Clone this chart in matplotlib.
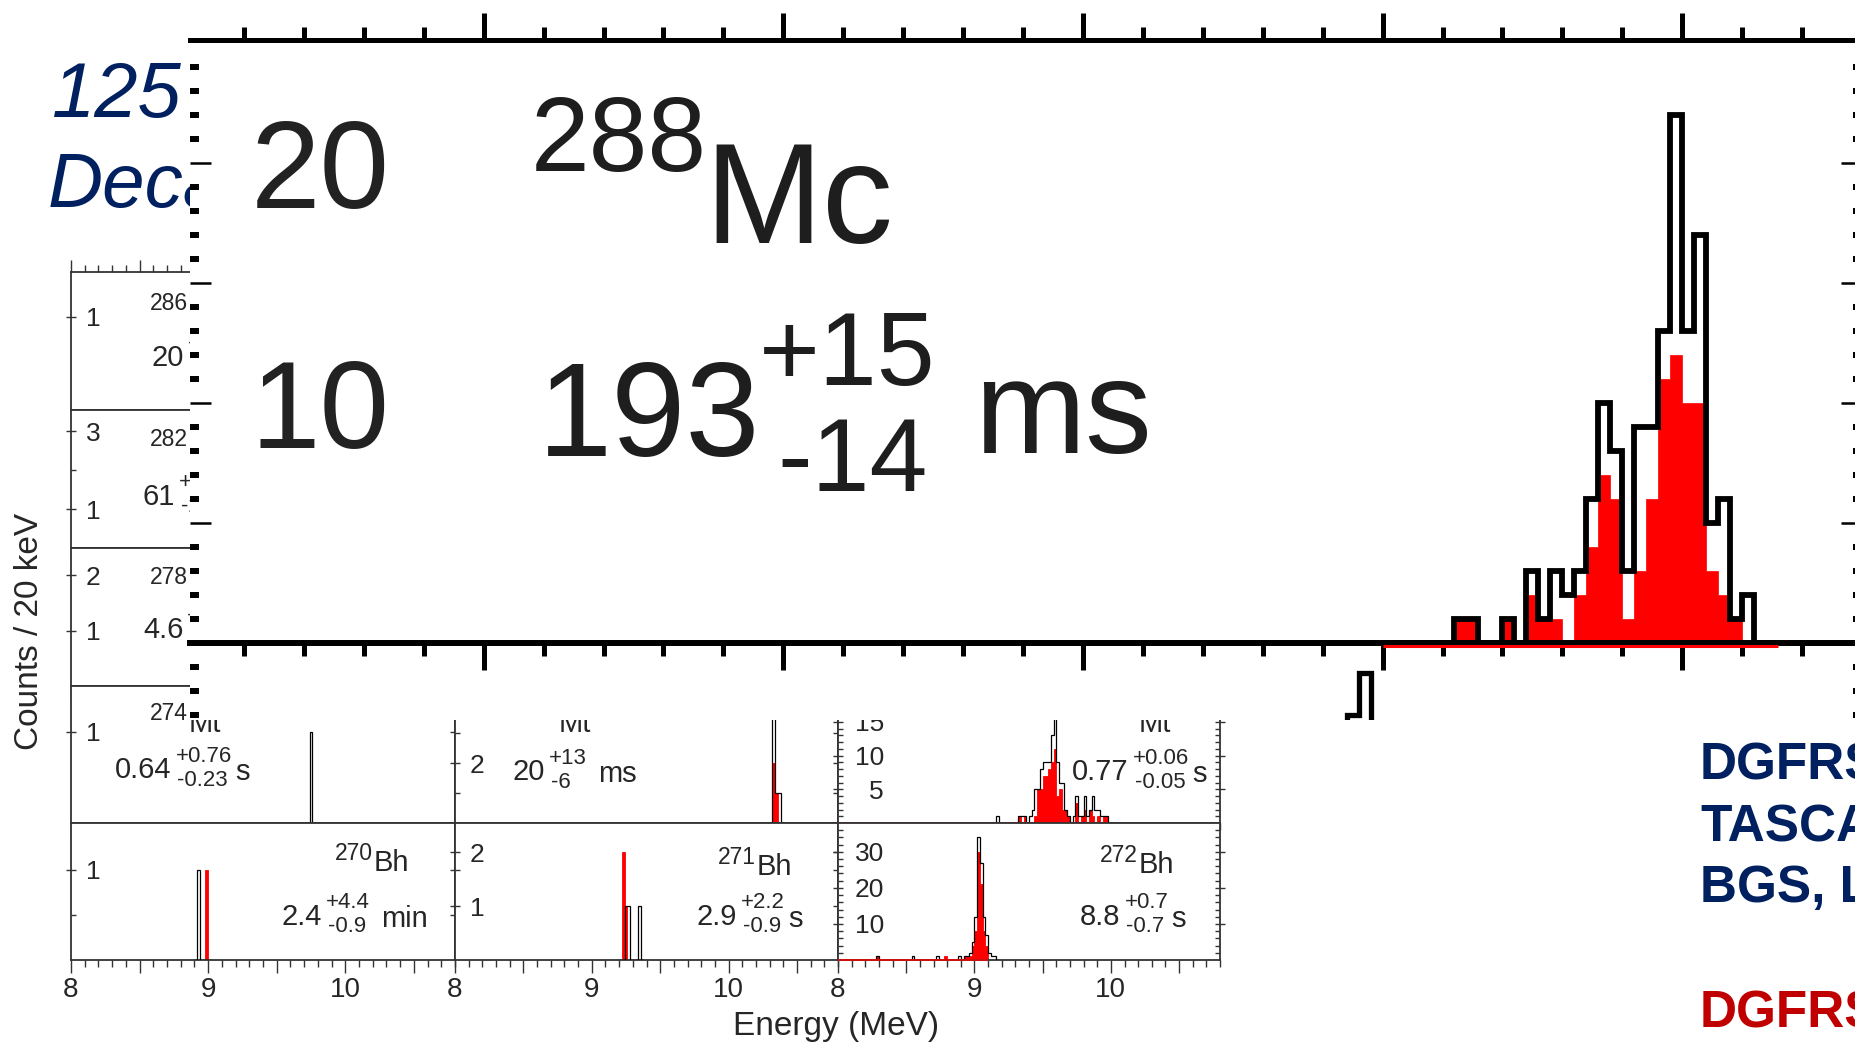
import numpy as np
import matplotlib
matplotlib.use('Agg')
import matplotlib.pyplot as plt
from matplotlib.patches import Rectangle
from matplotlib.ticker import MultipleLocator, FuncFormatter, FixedLocator

plt.rcParams['font.family'] = ['Liberation Sans', 'DejaVu Sans']

BIN = 0.02  # 20 keV bins

# 288Mc, enlarged panel (bins start at 10.00 MeV)
mc288_start = 10.00
mc288_black = [0, 0, 0, 0, 0, 0, 1, 1, 0, 0, 1, 0, 3, 1, 3, 2, 3, 6, 10, 8, 3,
               9, 9, 13, 22, 13, 17, 5, 6, 1, 2, 0, 0]
mc288_red = [0, 0, 0, 0, 0, 0, 1, 1, 0, 0, 1, 0, 2, 1, 1, 0, 2, 4, 7, 6, 1,
             3, 6, 11, 12, 10, 10, 3, 2, 1, 0, 0, 0]
# top of the histogram of the panel underneath, seen at the lower edge
lower_start = 9.94
lower_counts = [0.4, 2.15]
lower_base = -3.4

# small panels: bin start (MeV), all events (black) and red events
mt274_bins, mt274_black, mt274_red = [9.74], [1], [0]
bh270_bins, bh270_black, bh270_red = [8.92, 8.98], [1, 0], [0, 1]
mt275_bins, mt275_black, mt275_red = [10.32, 10.34, 10.36], [4, 1, 1], [2, 1, 0]
bh271_bins = [9.22, 9.24, 9.26, 9.34]
bh271_black = [0, 1, 1, 1]
bh271_red = [2, 1, 0, 0]
mt276_bins = [9.16, 9.32, 9.34, 9.36, 9.40, 9.42, 9.44, 9.46, 9.48, 9.50, 9.52,
              9.54, 9.56, 9.58, 9.60, 9.62, 9.64, 9.66, 9.68, 9.72, 9.74, 9.76,
              9.78, 9.80, 9.82, 9.84, 9.86, 9.88, 9.90, 9.92, 9.94, 9.96]
mt276_black = [1, 1, 1, 1, 1, 2, 5, 5, 8, 9, 9, 9, 13, 20, 9, 6, 6, 2, 1, 1, 4, 1,
               1, 4, 1, 2, 4, 2, 2, 1, 1, 1]
mt276_red = [0, 1, 0, 1, 0, 0, 1, 5, 5, 7, 7, 8, 9, 11, 4, 5, 2, 2, 1, 0, 3, 0,
             1, 2, 0, 2, 1, 0, 1, 0, 1, 1]
bh272_bins = [8.28, 8.54, 8.72, 8.78, 8.88, 8.92, 8.94, 8.96, 8.98, 9.00, 9.02,
              9.04, 9.06, 9.08, 9.10, 9.12, 9.14]
bh272_black = [1, 1, 1, 0, 1, 1, 1, 2, 5, 12, 34, 27, 12, 7, 2, 1, 1]
bh272_red = [1, 0, 0, 1, 0, 1, 1, 1, 4, 8, 30, 21, 8, 4, 0, 0, 0]

W, H = 1856, 1044
NAVY = '#002060'
TXT = '#262626'

fig = plt.figure(figsize=(W / 100, H / 100), dpi=100, facecolor='white')
renderer = fig.canvas.get_renderer()


def px_axes(x0, y0, x1, y1, **kw):
    return fig.add_axes([x0 / W, 1 - y1 / H, (x1 - x0) / W, (y1 - y0) / H], **kw)


def ptext(x, y, s, **kw):
    return fig.text(x / W, 1 - y / H, s, **kw)


def width_px(t):
    return t.get_window_extent(renderer).width


def on_grid(bins, counts):
    lo = round(min(bins) - BIN, 2)
    n = int(round((max(bins) - lo) / BIN)) + 2
    edges = lo + BIN * np.arange(n + 1)
    vals = np.zeros(n)
    for b, c in zip(bins, counts):
        vals[int(round((b - lo) / BIN))] = c
    return edges, vals


# ---- background slide text ----
ptext(52, 117, '125', fontsize=56, style='italic', color=NAVY, zorder=1.5)
ptext(48, 207, 'Decay', fontsize=55, style='italic', color=NAVY, zorder=1.5)

for y, s, c in [(779, 'DGFRS', NAVY), (841, 'TASCA', NAVY),
                (902, 'BGS, LBNL', NAVY), (1027, 'DGFRS', '#c00000')]:
    ptext(1700, y, s, fontsize=37, fontweight='bold', color=c, zorder=4)

# ---- small panels ----
COL_X = [71, 455, 838, 1220]
ROW_Y = [272, 410, 548, 686, 823, 960]

panels = [
    dict(r=0, c=0, top=1.48, major=[1], labels=['1'], minor=[]),
    dict(r=1, c=0, top=3.54, major=[1, 3], labels=['1', '3'], minor=[2]),
    dict(r=2, c=0, top=2.49, major=[1, 2], labels=['1', '2'], minor=[]),
    dict(r=3, c=0, top=1.5, major=[1], labels=['1'], minor=[],
         data=(mt274_bins, mt274_black, mt274_red)),
    dict(r=4, c=0, top=1.52, major=[1], labels=['1'], minor=[0.5],
         data=(bh270_bins, bh270_black, bh270_red)),
    dict(r=3, c=1, top=4.57, major=[2, 4], labels=['2', '4'], minor=[1, 3],
         data=(mt275_bins, mt275_black, mt275_red)),
    dict(r=4, c=1, top=2.54, major=[1, 2], labels=['1', '2'], minor=[1.67],
         data=(bh271_bins, bh271_black, bh271_red)),
    dict(r=3, c=2, top=20.3, major=[5, 10, 15], labels=['5', '10', '15'],
         minor=list(range(1, 21)), data=(mt276_bins, mt276_black, mt276_red),
         base=True),
    dict(r=4, c=2, top=38, major=[10, 20, 30], labels=['10', '20', '30'],
         minor=list(range(2, 38, 2)), data=(bh272_bins, bh272_black, bh272_red),
         base=True),
]

for p in panels:
    ax = px_axes(COL_X[p['c']], ROW_Y[p['r']], COL_X[p['c'] + 1], ROW_Y[p['r'] + 1])
    ax.set_zorder(1)
    ax.set_xlim(8, 10.8)
    ax.set_ylim(0, p['top'])
    for s in ax.spines.values():
        s.set_color('#333333')
        s.set_linewidth(1.3)
    if 'data' in p:
        bins, black, red = p['data']
        edges, vb = on_grid(bins, black)
        _, vr = on_grid(bins, red)
        ax.stairs(vr, edges, fill=True, facecolor='red', edgecolor='red',
                  lw=0.6, zorder=2)
        ax.stairs(vb, edges, baseline=0, fill=False, color='black', lw=0.9,
                  zorder=3)
        if p.get('base'):
            last = max(b for b, v in zip(bins, red) if v > 0) + BIN
            ax.hlines(0, 8, last, color='#d01010', lw=1.4, zorder=4, clip_on=False)
    ax.set_xticks([8, 8.5, 9, 9.5, 10, 10.5])
    ax.xaxis.set_minor_locator(MultipleLocator(0.1))
    if p['r'] == 4:
        ax.set_xticklabels(['8', '', '9', '', '10', ''])
    else:
        ax.set_xticklabels([])
    ax.tick_params(axis='x', which='major', direction='out', length=9, width=1.0,
                   color='#333333', labelsize=20, labelcolor=TXT, pad=3,
                   top=(p['r'] == 0))
    ax.tick_params(axis='x', which='minor', direction='out', length=5, width=1.0,
                   color='#333333', top=(p['r'] == 0))
    ax.set_yticks(p['major'])
    ax.set_yticklabels(p['labels'])
    ax.yaxis.set_minor_locator(FixedLocator(p['minor']))
    pad = -36.6 if p['c'] == 2 else -25
    ax.tick_params(axis='y', which='major', direction='inout', length=7, width=1.0,
                   color='#333333', left=True, right=True, labelsize=19,
                   labelcolor=TXT, pad=pad)
    ax.tick_params(axis='y', which='minor', direction='in', length=3.5, width=1.0,
                   color='#333333', left=True, right=True)

# nuclide labels and half-lives in the small panels
nuclides = [
    (150, 303, '286', 'Mc'), (150, 440, '282', 'Nh'), (150, 577, '278', 'Rg'),
    (150, 714, '274', 'Mt'), (520, 714, '275', 'Mt'), (1100, 714, '276', 'Mt'),
    (335, 853, '270', 'Bh'), (718, 857, '271', 'Bh'), (1100, 855, '272', 'Bh'),
]
for x, y, mass, sym in nuclides:
    t = ptext(x, y, mass, fontsize=16.5, color=TXT, va='center', zorder=1.2)
    ptext(x + width_px(t) + 1, y + 18, sym, fontsize=21, color=TXT,
          va='baseline', zorder=1.2)

halflives = [
    (152, 358, '20', '+98', '-9', 'ms'),
    (143, 497, '61', '+73', '-22', 'ms'),
    (143, 630, '4.6', '+5.5', '-1.6', 'ms'),
    (115, 770, '0.64', '+0.76', '-0.23', 's'),
    (513, 772, '20', '+13', '-6', 'ms'),
    (1072, 772, '0.77', '+0.06', '-0.05', 's'),
    (282, 917, '2.4', '+4.4', '-0.9', 'min'),
    (697, 917, '2.9', '+2.2', '-0.9', 's'),
    (1080, 917, '8.8', '+0.7', '-0.7', 's'),
]
for x, y, val, up, dn, unit in halflives:
    t = ptext(x, y, val, fontsize=21, color=TXT, va='center', zorder=1.2)
    xs = x + width_px(t) + 4
    tu = ptext(xs, y - 14, up, fontsize=16, color=TXT, va='center', zorder=1.2)
    td = ptext(xs + 2, y + 10, dn, fontsize=16, color=TXT, va='center', zorder=1.2)
    w2 = max(width_px(tu), width_px(td) + 2)
    ptext(xs + w2 + 3 + (8 if unit in ('ms', 'min') else 0), y + 2, unit,
          fontsize=21, color=TXT, va='center', zorder=1.2)

ptext(836, 1027, 'Energy (MeV)', fontsize=24, color=TXT, ha='center', va='center')
ptext(30, 631, 'Counts / 20 keV', fontsize=24, color=TXT, ha='center',
      va='center', rotation=90)

# ---- enlarged 288Mc panel laid over the slide ----
fig.add_artist(Rectangle((190 / W, 1 - 720 / H), (W - 190) / W, 720 / H,
                         transform=fig.transFigure, facecolor='white',
                         edgecolor='none', zorder=2))

ov = px_axes(190, 40, 1862, 720)
ov.set_zorder(3)
ov.set_facecolor('white')
ov.set_xlim(8.01, 10.80)
ov.set_ylim(-3.2, 25.12)

edges = mc288_start + BIN * np.arange(len(mc288_black) + 1)
ov.stairs(mc288_red, edges, fill=True, facecolor='#ff0000', edgecolor='#ff0000',
          lw=0.5, zorder=2)
ov.hlines(-0.12, edges[0], edges[-1], color='#ff0000', lw=2.2, zorder=4)
ov.stairs(mc288_black, edges, baseline=0, fill=False, color='black', lw=4.2,
          zorder=3)
low_edges = lower_start + BIN * np.arange(len(lower_counts) + 1)
ov.stairs(lower_base + np.array(lower_counts), low_edges, baseline=lower_base,
          fill=False, color='black', lw=3.8, zorder=3)

ov.spines['left'].set_visible(False)
ov.spines['right'].set_visible(False)
ov.spines['top'].set_linewidth(3.6)
ov.spines['bottom'].set_position(('data', 0))
ov.spines['bottom'].set_linewidth(4.3)
ov.spines['bottom'].set_zorder(3.5)

ov.xaxis.set_major_locator(MultipleLocator(0.5))
ov.xaxis.set_minor_locator(MultipleLocator(0.1))
ov.tick_params(axis='x', which='major', direction='out', length=19.5, width=3.6,
               top=True, bottom=True, labelbottom=False)
ov.tick_params(axis='x', which='minor', direction='out', length=9.5, width=3.6,
               top=True, bottom=True)

ov.yaxis.set_major_locator(FixedLocator([-0, 5, 10, 15, 20]))
ov.yaxis.set_minor_locator(FixedLocator([v for v in range(-3, 25) if v % 5]))
ov.yaxis.set_major_formatter(FuncFormatter(
    lambda v, pos: f'{v:.0f}' if round(v) in (10, 20) else ''))
ov.tick_params(axis='y', which='major', direction='in', length=15, width=1.8,
               left=True, right=True, labelsize=90, labelcolor='#222222',
               pad=-144)
ov.tick_params(axis='y', which='minor', direction='in', length=6.5, width=4.3,
               left=True, right=True)

BIG = '#1e1e1e'
ptext(531, 171, '288', fontsize=76, color=BIG, va='baseline', zorder=4)
ptext(704, 243, 'Mc', fontsize=102, color=BIG, va='baseline', zorder=4)
ptext(538, 456, '193', fontsize=96, color=BIG, va='baseline', zorder=4)
ptext(759, 385, '+15', fontsize=75, color=BIG, va='baseline', zorder=4)
ptext(777, 491, '-14', fontsize=75, color=BIG, va='baseline', zorder=4)
ptext(974, 453, 'ms', fontsize=96, color=BIG, va='baseline', zorder=4)

fig.savefig('out.png', dpi=100)
